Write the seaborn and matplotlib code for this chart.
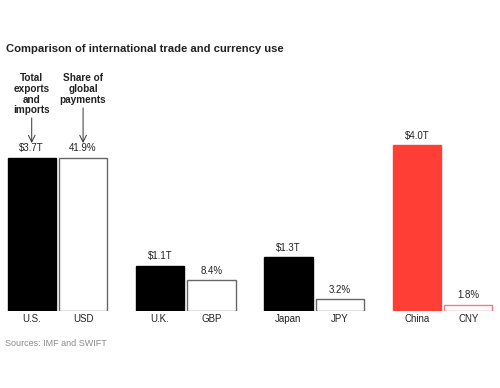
import numpy as np
import pandas as pd

import matplotlib.pyplot as plt
import seaborn as sns

sns.set_theme(style="white")
plt.rcParams['font.family'] = ['Liberation Sans', 'DejaVu Sans']

# -- Data -- #
countries = ["U.S.", "U.K.", "Japan", "China"]
currencies = ["USD", "GBP", "JPY", "CNY"]
trade_tn = [3.7, 1.1, 1.3, 4.0]          # total exports and imports, $T
pay_share = [41.9, 8.4, 3.2, 1.8]        # share of global payments, %

trade_labels = [f"${v}T" for v in trade_tn]
share_labels = [f"{v}%" for v in pay_share]

# share bars are drawn so that USD is as tall as U.S.
share_scale = trade_tn[0] / pay_share[0]

df = pd.DataFrame({
    "group": countries * 2,
    "kind": ["trade"] * 4 + ["share"] * 4,
    "height": trade_tn + [s * share_scale for s in pay_share],
    "tick": countries + currencies,
    "label": trade_labels + share_labels,
})

face = {"U.S.": "black", "U.K.": "black", "Japan": "black", "China": "#ff3f36",
        "USD": "white", "GBP": "white", "JPY": "white", "CNY": "white"}
edge = {"U.S.": "black", "U.K.": "black", "Japan": "black", "China": "#ff3f36",
        "USD": "#666666", "GBP": "#666666", "JPY": "#666666", "CNY": "#f07b80"}

fig = plt.figure(figsize=(5, 3.88), dpi=100)
ax = fig.add_axes([0, 0.198, 1, 0.70])

sns.barplot(data=df, x="group", y="height", hue="kind", hue_order=["trade", "share"],
            width=0.8, gap=0.06, dodge=True, legend=False, ax=ax)

# order bars left to right and restyle
bars = sorted(ax.patches, key=lambda p: p.get_x())
order = []
for c, k in zip(countries, currencies):
    order += [c, k]
labels = dict(zip(df["tick"], df["label"]))

centers = []
for p, name in zip(bars, order):
    p.set_facecolor(face[name])
    p.set_edgecolor(edge[name])
    p.set_linewidth(1.0)
    cx = p.get_x() + p.get_width() / 2
    centers.append(cx)
    ax.annotate(labels[name], (cx, p.get_height()), xytext=(0, 3),
                textcoords="offset points", ha="center", va="bottom",
                fontsize=7, color="#222222")

ax.set_xticks(centers, order)
ax.tick_params(axis="x", length=0, pad=2, labelsize=7, labelcolor="#222222")
ax.set_yticks([])
ax.set_xlabel("")
ax.set_ylabel("")
ax.set_xlim(-0.447, 3.447)
ax.set_ylim(0, 271.6 / 41.5)
sns.despine(ax=ax, left=True, bottom=True)

# column headers with arrows
heads = [("Total\nexports\nand\nimports", centers[0], 0.696),
         ("Share of\nglobal\npayments", centers[1], 0.722)]
for txt, cx, y0 in heads:
    ax.annotate(txt, (cx, 1 - 73 / 388), xycoords=("data", "figure fraction"),
                ha="center", va="top", fontsize=7.2, fontweight="bold",
                linespacing=1.1, color="#222222")
    ax.annotate("", xy=(cx, 1 - 143 / 388), xycoords=("data", "figure fraction"),
                xytext=(cx, y0), textcoords=("data", "figure fraction"),
                arrowprops=dict(arrowstyle="->", color="#333333", lw=0.7,
                                shrinkA=0, shrinkB=0))

fig.text(0.012, 1 - 49 / 388, "Comparison of international trade and currency use",
         fontsize=8.1, fontweight="bold", va="center", ha="left", color="#222222")
fig.text(0.01, 1 - 343 / 388, "Sources: IMF and SWIFT",
         fontsize=6.5, color="#8a8a8a", va="center", ha="left")

fig.savefig("out.png", dpi=100)
plt.close()
